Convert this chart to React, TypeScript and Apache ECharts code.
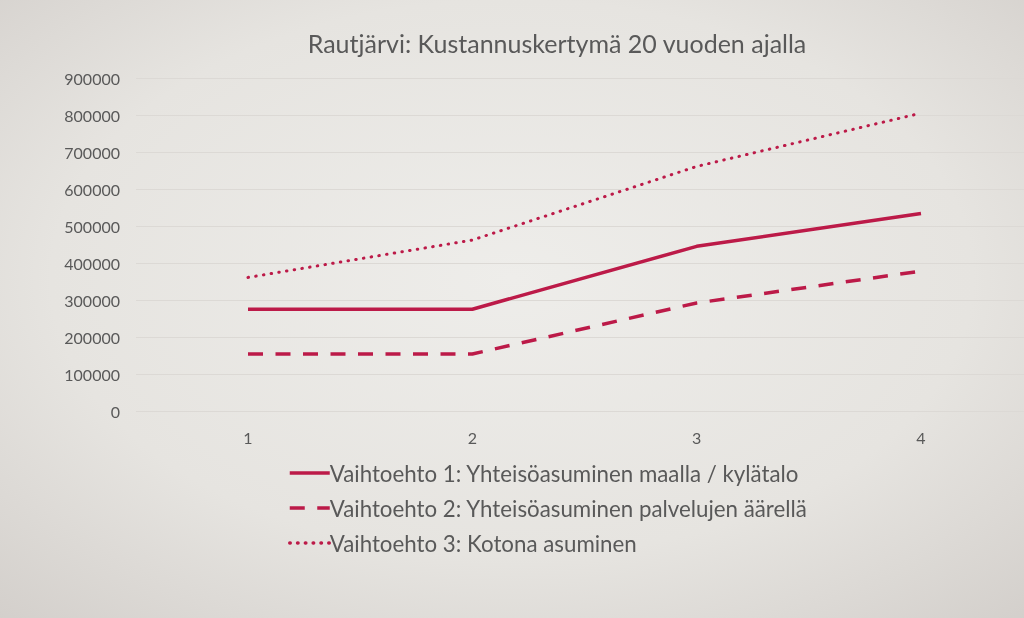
import React, { useEffect, useRef } from 'react';
import * as echarts from 'echarts';

const categories = ['1', '2', '3', '4'];
const seriesNames = [
  'Vaihtoehto 1: Yhteisöasuminen maalla / kylätalo',
  'Vaihtoehto 2: Yhteisöasuminen palvelujen äärellä',
  'Vaihtoehto 3: Kotona asuminen',
];
const option1 = [275000, 275000, 445000, 534000];
const option2 = [154000, 154000, 292000, 378000];
const option3 = [361000, 462000, 661000, 805000];

const RED = '#bc1a48';
const TEXT = '#595959';
const FONT = 'Lato, "Open Sans", sans-serif';

const App: React.FC = () => {
  const chartRef = useRef<HTMLDivElement>(null);

  useEffect(() => {
    if (!chartRef.current) return;
    const chart = echarts.init(chartRef.current, null, { renderer: 'svg' });

    const option: echarts.EChartsOption = {
      animation: false,
      backgroundColor: {
        type: 'radial',
        x: 0.5,
        y: 0.45,
        r: 0.75,
        colorStops: [
          { offset: 0, color: '#eeedea' },
          { offset: 0.6, color: '#e6e4e0' },
          { offset: 1, color: '#d3cfcb' },
        ],
      },
      textStyle: { fontFamily: FONT },
      title: {
        text: 'Rautjärvi: Kustannuskertymä 20 vuoden ajalla',
        left: 552,
        textAlign: 'center',
        top: 25,
        textStyle: { color: TEXT, fontSize: 25, fontWeight: 'normal', fontFamily: FONT },
      },
      // grid 0 holds the lines (points sit on the grid edges), grid 1 the gridlines and y labels
      grid: [
        { left: 248, top: 78, right: 103, height: 333 },
        { left: 136, top: 78, right: 0, height: 333 },
      ],
      xAxis: [
        {
          type: 'category',
          gridIndex: 0,
          data: categories,
          boundaryGap: false,
          axisLine: { show: false },
          axisTick: { show: false },
          axisLabel: { color: TEXT, fontSize: 16, margin: 18 },
        },
        {
          type: 'category',
          gridIndex: 1,
          data: categories,
          show: false,
        },
      ],
      yAxis: [
        {
          type: 'value',
          gridIndex: 0,
          min: 0,
          max: 900000,
          interval: 100000,
          show: false,
          splitLine: { show: false },
        },
        {
          type: 'value',
          gridIndex: 1,
          min: 0,
          max: 900000,
          interval: 100000,
          axisLine: { show: false },
          axisTick: { show: false },
          axisLabel: { color: TEXT, fontSize: 16, margin: 16, formatter: (v: number) => String(v) },
          splitLine: { lineStyle: { color: '#dcd9d5', width: 1 } },
        },
      ],
      legend: {
        orient: 'vertical',
        left: 283,
        top: 457,
        itemWidth: 40,
        itemHeight: 14,
        itemGap: 13,
        itemStyle: { opacity: 0 },
        lineStyle: { width: 3.5 },
        textStyle: { color: TEXT, fontSize: 22.3, padding: [0, 0, 0, -5], fontFamily: FONT },
        data: seriesNames,
      },
      series: [
        {
          name: seriesNames[0],
          type: 'line',
          data: option1,
          symbol: 'none',
          color: RED,
          lineStyle: { color: RED, width: 3.5 },
        },
        {
          name: seriesNames[1],
          type: 'line',
          data: option2,
          symbol: 'none',
          color: RED,
          lineStyle: { color: RED, width: 3.5, type: [15, 12.5] },
        },
        {
          name: seriesNames[2],
          type: 'line',
          data: option3,
          symbol: 'none',
          color: RED,
          lineStyle: { color: RED, width: 3, type: [0.5, 7.3], cap: 'round' },
        },
      ],
    };

    chart.setOption(option);
    return () => {
      chart.dispose();
    };
  }, []);

  return (
    <div
      ref={chartRef}
      style={{ position: 'fixed', left: 0, top: 0, width: '1024px', height: '618px' }}
    />
  );
};

export default App;
